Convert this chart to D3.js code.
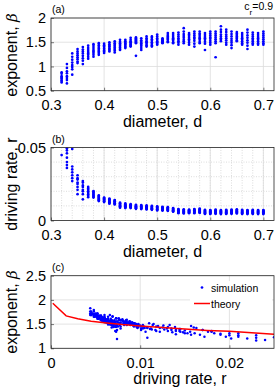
<!DOCTYPE html>
<html><head><meta charset="utf-8">
<script src="https://cdn.jsdelivr.net/npm/d3@7"></script>
<style>body{margin:0;background:#fff}svg{display:block}text{font-family:"Liberation Sans",Arial,Helvetica,sans-serif;fill:#000}</style>
</head><body>
<script>
// ---------- data ----------
const diameters = [0.32,0.33,0.34,0.35,0.36,0.37,0.38,0.39,0.40,0.41,0.42,0.43,0.44,0.45,0.46,0.47,0.48,0.49,0.50,0.51,0.52,0.53,0.54,0.55,0.56,0.57,0.58,0.59,0.60,0.61,0.62,0.63,0.64,0.65,0.66,0.67,0.68,0.69,0.70];
// exponent beta per diameter (8 runs each)
const betaRuns = [
[0.88,0.85,0.80,0.77,0.75,0.72,0.70,0.67],
[1.05,0.97,0.90,0.86,0.80,0.76,0.72,0.65],
[1.27,1.20,1.14,1.08,1.03,0.99,0.94,0.83],
[1.36,1.31,1.27,1.23,1.19,1.15,1.10,1.07],
[1.40,1.35,1.31,1.27,1.22,1.17,1.12,1.05],
[1.43,1.38,1.34,1.30,1.27,1.24,1.20,1.16],
[1.46,1.42,1.38,1.34,1.31,1.28,1.24,1.20],
[1.48,1.44,1.40,1.37,1.34,1.31,1.28,1.24],
[1.47,1.44,1.41,1.38,1.36,1.33,1.31,1.28],
[1.50,1.46,1.43,1.41,1.38,1.36,1.34,1.31],
[1.52,1.48,1.45,1.42,1.39,1.36,1.33,1.29],
[1.55,1.51,1.48,1.45,1.42,1.39,1.36,1.34],
[1.55,1.52,1.49,1.47,1.45,1.42,1.40,1.38],
[1.59,1.55,1.52,1.50,1.47,1.45,1.43,1.41],
[1.60,1.58,1.56,1.54,1.52,1.50,1.48,1.22],
[1.58,1.54,1.51,1.48,1.45,1.42,1.38,1.34],
[1.62,1.58,1.55,1.52,1.50,1.47,1.44,1.41],
[1.62,1.59,1.56,1.53,1.50,1.47,1.44,1.41],
[1.66,1.62,1.58,1.55,1.52,1.50,1.47,1.45],
[1.58,1.56,1.54,1.53,1.52,1.50,1.49,1.48],
[1.69,1.65,1.62,1.59,1.57,1.55,1.52,1.50],
[1.69,1.65,1.61,1.58,1.56,1.53,1.50,1.48],
[1.70,1.66,1.62,1.58,1.55,1.52,1.49,1.45],
[1.79,1.72,1.67,1.63,1.59,1.55,1.52,1.48],
[1.69,1.66,1.63,1.59,1.56,1.53,1.49,1.45],
[1.72,1.68,1.64,1.60,1.57,1.53,1.47,1.41],
[1.72,1.68,1.65,1.61,1.58,1.55,1.51,1.48],
[1.69,1.65,1.61,1.58,1.55,1.51,1.47,1.34],
[1.72,1.68,1.64,1.60,1.57,1.53,1.49,1.45],
[1.72,1.68,1.64,1.60,1.56,1.52,1.48,1.19],
[1.83,1.76,1.71,1.66,1.62,1.58,1.55,1.52],
[1.76,1.71,1.66,1.62,1.58,1.54,1.49,1.45],
[1.72,1.67,1.62,1.57,1.53,1.49,1.44,1.38],
[1.71,1.68,1.65,1.62,1.59,1.57,1.54,1.52],
[1.69,1.65,1.61,1.58,1.55,1.52,1.48,1.45],
[1.76,1.70,1.64,1.59,1.54,1.49,1.43,1.36],
[1.70,1.66,1.62,1.58,1.55,1.52,1.48,1.45],
[1.69,1.65,1.61,1.58,1.55,1.52,1.48,1.45],
[1.72,1.68,1.64,1.60,1.56,1.52,1.48,1.45]
];
// driving rate r per diameter (same runs, same order)
const rateRuns = [
[0.0448,0.052,0.055,0.058,0.061,0.065,0.069,0.073],
[0.036,0.038,0.040,0.043,0.046,0.048,0.0495,0.053],
[0.027,0.029,0.031,0.033,0.035,0.037,0.049,0.054],
[0.018,0.021,0.023,0.025,0.026,0.028,0.029,0.031],
[0.0145,0.018,0.020,0.021,0.023,0.024,0.026,0.027],
[0.016,0.017,0.018,0.019,0.020,0.021,0.022,0.023],
[0.0157,0.0163,0.0170,0.0176,0.0183,0.0190,0.0196,0.0202],
[0.0133,0.0139,0.0144,0.0150,0.0156,0.0161,0.0167,0.0172],
[0.0126,0.0131,0.0135,0.0140,0.0144,0.0148,0.0153,0.0157],
[0.0115,0.0120,0.0125,0.0130,0.0135,0.0140,0.0145,0.0150],
[0.0110,0.0114,0.0118,0.0122,0.0127,0.0131,0.0136,0.0140],
[0.0088,0.0093,0.0098,0.0103,0.0108,0.0113,0.0118,0.0122],
[0.0085,0.0089,0.0093,0.0097,0.0101,0.0105,0.0111,0.0117],
[0.0085,0.0089,0.0093,0.0096,0.0100,0.0104,0.0108,0.0112],
[0.0080,0.0084,0.0088,0.0091,0.0094,0.0098,0.0103,0.0108],
[0.0078,0.0082,0.0085,0.0089,0.0093,0.0097,0.0101,0.0106],
[0.0076,0.0080,0.0083,0.0087,0.0090,0.0094,0.0098,0.0103],
[0.0073,0.0077,0.0081,0.0084,0.0088,0.0092,0.0096,0.0101],
[0.0069,0.0073,0.0077,0.0081,0.0085,0.0089,0.0093,0.0097],
[0.0068,0.0071,0.0075,0.0078,0.0082,0.0086,0.0090,0.0094],
[0.0066,0.0069,0.0073,0.0076,0.0080,0.0083,0.0087,0.0091],
[0.0060,0.0064,0.0067,0.0071,0.0074,0.0078,0.0081,0.0085],
[0.0050,0.0054,0.0058,0.0062,0.0066,0.0070,0.0074,0.0078],
[0.0048,0.0052,0.0056,0.0060,0.0064,0.0068,0.0072,0.0077],
[0.0050,0.0054,0.0057,0.0061,0.0064,0.0068,0.0071,0.0075],
[0.0050,0.0054,0.0058,0.0062,0.0066,0.0070,0.0074,0.0078],
[0.0052,0.0056,0.0060,0.0064,0.0068,0.0072,0.0077,0.0082],
[0.0045,0.0049,0.0053,0.0057,0.0061,0.0065,0.0069,0.0073],
[0.0045,0.0048,0.0052,0.0056,0.0060,0.0064,0.0068,0.0072],
[0.0046,0.0050,0.0054,0.0058,0.0062,0.0066,0.0070,0.0074],
[0.0044,0.0048,0.0052,0.0056,0.0060,0.0064,0.0068,0.0072],
[0.0045,0.0049,0.0053,0.0057,0.0061,0.0065,0.0069,0.0073],
[0.0046,0.0050,0.0054,0.0058,0.0062,0.0066,0.0070,0.0074],
[0.0048,0.0052,0.0056,0.0060,0.0064,0.0068,0.0072,0.0077],
[0.0045,0.0049,0.0053,0.0057,0.0061,0.0065,0.0069,0.0073],
[0.0044,0.0048,0.0052,0.0056,0.0060,0.0064,0.0068,0.0072],
[0.0045,0.0049,0.0053,0.0057,0.0061,0.0065,0.0069,0.0073],
[0.0044,0.0048,0.0052,0.0056,0.0060,0.0064,0.0068,0.0072],
[0.0044,0.0048,0.0052,0.0056,0.0060,0.0064,0.0068,0.0072]
];
const theoryRate = [0.0002,0.0017,0.003,0.0045,0.006,0.008,0.010,0.0125,0.015,0.0175,0.020,0.0225,0.0255];
const theoryBeta = [1.93,1.67,1.61,1.56,1.53,1.49,1.46,1.43,1.40,1.37,1.35,1.32,1.285];
const dTicks = [0.3,0.4,0.5,0.6,0.7];
const betaTicksA = [0.5,1,1.5,2];
const rateTicksB = [0,0.05];
const rateTicksC = [0,0.01,0.02];
const betaTicksC = [1,1.5,2,2.5];
const legendLabels = ["simulation","theory"];

// records
const runs = [];
diameters.forEach((d,i)=>betaRuns[i].forEach((b,j)=>runs.push({d, beta:b, r:rateRuns[i][j]})));

const W = 275, H = 391;
const svg = d3.select("body").append("svg").attr("width",W).attr("height",H);
const AX = "#262626", GRID = "#dcdcdc", MINOR = "#c4c4c4";
const L = 51, R = 274;

function panel(opt){
  const g = svg.append("g");
  const cid = "clip"+opt.id;
  svg.append("clipPath").attr("id",cid).append("rect")
    .attr("x",L).attr("y",opt.y.range()[1]).attr("width",R-L).attr("height",opt.y.range()[0]-opt.y.range()[1]);
  const [yb,yt] = opt.y.range();
  // minor grid
  if(opt.xMinor){
    g.selectAll(".mx").data(opt.xMinor).join("line")
      .attr("x1",d=>opt.x(d)).attr("x2",d=>opt.x(d)).attr("y1",yt).attr("y2",yb)
      .attr("stroke",MINOR).attr("stroke-width",0.6).attr("stroke-dasharray","1,1.5");
  }
  if(opt.yMinor){
    g.selectAll(".my").data(opt.yMinor).join("line")
      .attr("x1",L).attr("x2",R).attr("y1",d=>opt.y(d)).attr("y2",d=>opt.y(d))
      .attr("stroke",MINOR).attr("stroke-width",0.6).attr("stroke-dasharray","1,1.5");
  }
  // major grid
  g.selectAll(".gx").data(opt.xTicks).join("line")
    .attr("x1",d=>opt.x(d)).attr("x2",d=>opt.x(d)).attr("y1",yt).attr("y2",yb)
    .attr("stroke",GRID).attr("stroke-width",0.8);
  g.selectAll(".gy").data(opt.yTicks).join("line")
    .attr("x1",L).attr("x2",R).attr("y1",d=>opt.y(d)).attr("y2",d=>opt.y(d))
    .attr("stroke",GRID).attr("stroke-width",0.8);
  const plot = g.append("g").attr("clip-path",`url(#${cid})`);
  // axes
  const xa = g.append("g").attr("transform",`translate(0,${yb})`)
    .call(d3.axisBottom(opt.x).tickValues(opt.xTicks).tickFormat(opt.xFmt).tickSizeInner(-3).tickSizeOuter(0).tickPadding(6));
  const ya = g.append("g").attr("transform",`translate(${L},0)`)
    .call(d3.axisLeft(opt.y).tickValues(opt.yTicks).tickFormat(opt.yFmt).tickSizeInner(-3).tickSizeOuter(0).tickPadding(5));
  [xa,ya].forEach(a=>{
    a.select(".domain").remove();
    a.selectAll("line").attr("stroke",AX).attr("stroke-width",0.6);
    a.selectAll("text").attr("font-size",14.5).attr("fill","#000")
      .style("font-family",'"Liberation Sans",Arial,sans-serif');
  });
  xa.selectAll("text").attr("dy","0.95em");
  g.append("rect").attr("x",L).attr("y",yt).attr("width",R-L).attr("height",yb-yt)
    .attr("fill","none").attr("stroke",AX).attr("stroke-width",0.8);
  // labels
  g.append("text").attr("x",opt.xlabX||(L+R)/2).attr("y",yb+36).attr("text-anchor","middle")
    .attr("font-size",16).text(opt.xlabel);
  const yl = g.append("text").attr("transform",`translate(17,${opt.ylabY}) rotate(-90)`)
    .attr("text-anchor","middle").attr("font-size",16);
  yl.append("tspan").text(opt.ylabel);
  if(opt.ylabelSym) yl.append("tspan").attr("font-style","italic").attr("font-family","DejaVu Serif, serif").attr("font-size",15).text(opt.ylabelSym);
  g.append("text").attr("x",52).attr("y",yt-5).attr("font-size",10.5).text(opt.tag);
  return plot;
}

// (a)
const xD = d3.scaleLinear().domain([0.3,0.72]).range([L,R]);
const yA = d3.scaleLinear().domain([0.5,2]).range([90.7,18]);
const pa = panel({id:"a",x:xD,y:yA,xTicks:dTicks,yTicks:betaTicksA,xFmt:d3.format(".1f"),yFmt:d=>String(d),
  xlabel:"diameter, d",ylabel:"exponent, ",ylabelSym:"β",ylabY:55,tag:"(a)"});
pa.selectAll("circle").data(runs).join("circle")
  .attr("cx",d=>xD(d.d)).attr("cy",d=>yA(d.beta)).attr("r",1.35).attr("fill","#0000ff");
const ct = svg.append("text").attr("x",273).attr("y",10).attr("text-anchor","end").attr("font-size",10.5);
ct.append("tspan").text("c");
ct.append("tspan").attr("dy",4.5).attr("font-size",8).text("r");
ct.append("tspan").attr("dy",-4.5).text("=0.9");

// (b)
const yB = d3.scaleLinear().domain([0,0.05]).range([220.5,147.5]);
const pb = panel({id:"b",x:xD,y:yB,xTicks:dTicks,yTicks:rateTicksB,xFmt:d3.format(".1f"),yFmt:d=>d===0?"0":String(d),
  xMinor:d3.range(0.32,0.72,0.02),yMinor:[0.01,0.02,0.03,0.04],
  xlabel:"diameter, d",ylabel:"driving rate, r",ylabY:184,tag:"(b)"});
pb.selectAll("circle").data(runs).join("circle")
  .attr("cx",d=>xD(d.d)).attr("cy",d=>yB(d.r)).attr("r",1.35).attr("fill","#0000ff");

// (c)
const xC = d3.scaleLinear().domain([0,0.025]).range([L,R]);
const yC = d3.scaleLinear().domain([1,2.5]).range([348.3,275.7]);
const pc = panel({id:"c",x:xC,y:yC,xTicks:rateTicksC,yTicks:betaTicksC,xFmt:d=>d===0?"0":String(d),yFmt:d=>String(d),
  xlabel:"driving rate, r",ylabel:"exponent, ",ylabelSym:"β",ylabY:312,tag:"(c)",xlabX:180});
pc.selectAll("circle").data(runs).join("circle")
  .attr("cx",d=>xC(d.r)).attr("cy",d=>yC(d.beta)).attr("r",1.25).attr("fill","#0000ff");
pc.append("path").datum(theoryRate.map((r,i)=>[r,theoryBeta[i]]))
  .attr("d",d3.line().x(d=>xC(d[0])).y(d=>yC(d[1])))
  .attr("fill","none").attr("stroke","#ff0000").attr("stroke-width",1.5);
// legend
const lg = svg.append("g");
lg.append("rect").attr("x",190).attr("y",281).attr("width",82).attr("height",28).attr("fill","#fff");
lg.append("circle").attr("cx",202).attr("cy",287.5).attr("r",1.35).attr("fill","#0000ff");
lg.append("line").attr("x1",194).attr("x2",210).attr("y1",303.5).attr("y2",303.5).attr("stroke","#ff0000").attr("stroke-width",1.5);
lg.selectAll("text.lt").data(legendLabels).join("text").attr("class","lt")
  .attr("x",211).attr("y",(d,i)=>291.5+i*16).attr("font-size",10.5).text(d=>d);
</script>
</body></html>
